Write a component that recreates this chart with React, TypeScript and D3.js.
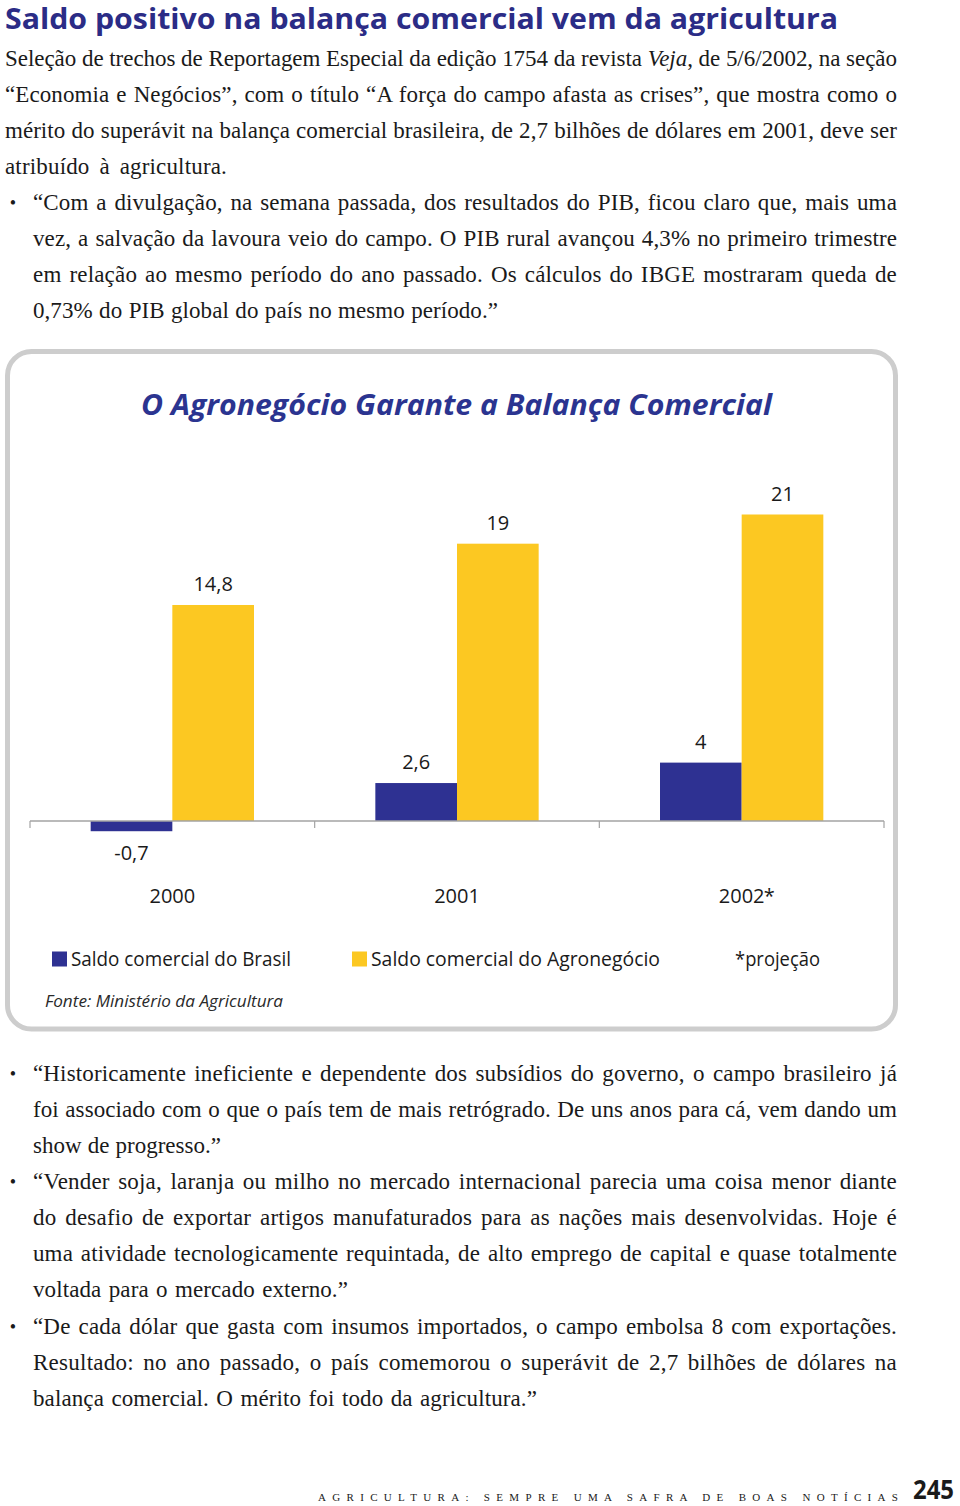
import React, { useEffect, useRef } from "react";
import * as d3 from "d3";

// ---------- chart data ----------
const years = ["2000", "2001", "2002"];
const yearSuffix = ["", "", "*"];
const seriesKeys = ["brasil", "agro"];
const seriesNames = ["Saldo comercial do Brasil", "Saldo comercial do Agronegócio"];
const saldoBrasil = [-0.7, 2.6, 4];
const saldoAgro = [14.8, 19, 21];
const footnote = "*projeção";
const chartTitle = "O Agronegócio Garante a Balança Comercial";
const sourceText = "Fonte: Ministério da Agricultura";

// ---------- page text ----------
const pageTitle = "Saldo positivo na balança comercial vem da agricultura";
const introLines = [
  "Seleção de trechos de Reportagem Especial da edição 1754 da revista |Veja|, de 5/6/2002, na seção",
  "“Economia e Negócios”, com o título “A força do campo afasta as crises”, que mostra como o",
  "mérito do superávit na balança comercial brasileira, de 2,7 bilhões de dólares em 2001, deve ser",
  "atribuído à agricultura.",
];
const bullet1 = [
  "“Com a divulgação, na semana passada, dos resultados do PIB, ficou claro que, mais uma",
  "vez, a salvação da lavoura veio do campo. O PIB rural avançou 4,3% no primeiro trimestre",
  "em relação ao mesmo período do ano passado. Os cálculos do IBGE mostraram queda de",
  "0,73% do PIB global do país no mesmo período.”",
];
const bullet2 = [
  "“Historicamente ineficiente e dependente dos subsídios do governo, o campo brasileiro já",
  "foi associado com o que o país tem de mais retrógrado. De uns anos para cá, vem dando um",
  "show de progresso.”",
];
const bullet3 = [
  "“Vender soja, laranja ou milho no mercado internacional parecia uma coisa menor diante",
  "do desafio de exportar artigos manufaturados para as nações mais desenvolvidas. Hoje é",
  "uma atividade tecnologicamente requintada, de alto emprego de capital e quase totalmente",
  "voltada para o mercado externo.”",
];
const bullet4 = [
  "“De cada dólar que gasta com insumos importados, o campo embolsa 8 com exportações.",
  "Resultado: no ano passado, o país comemorou o superávit de 2,7 bilhões de dólares na",
  "balança comercial. O mérito foi todo da agricultura.”",
];
const footerText = "AGRICULTURA: SEMPRE UMA SAFRA DE BOAS NOTÍCIAS";
const pageNumber = "245";

// ---------- styles ----------
const NAVY = "#2e3192";
const YELLOW = "#fcc822";
const TITLE_BLUE = "#2b2c86";
const SANS = "'Open Sans', 'Noto Sans', sans-serif";
const SERIF = "'Liberation Serif', 'DejaVu Serif', serif";

const fmt = (v: number) => String(v).replace(".", ",");

type LineSpec = { text: string; x: number; end: number; y: number };

function buildBlock(lines: string[], x: number, firstY: number, lastEnd: number): LineSpec[] {
  return lines.map((t, i) => ({
    text: t,
    x,
    end: i === lines.length - 1 ? lastEnd : 897,
    y: firstY + i * 36.15,
  }));
}

export default function App() {
  const svgRef = useRef<SVGSVGElement>(null);

  useEffect(() => {
    const justify = () => {
      if (!svgRef.current) return;
      d3.select(svgRef.current)
        .selectAll<SVGTextElement, unknown>("text.just")
        .each(function () {
          const el = this as SVGTextElement;
          const target = +(el.getAttribute("data-w") || 0);
          el.setAttribute("word-spacing", "0");
          el.setAttribute("letter-spacing", "0");
          const nat = el.getComputedTextLength();
          const txt = el.textContent || "";
          const spaces = (txt.match(/ /g) || []).length;
          const extra = target - nat;
          if (extra >= 0) {
            // mostly between words, a touch between letters
            const ls = Math.min(0.25, extra / (txt.length * 3));
            el.setAttribute("letter-spacing", String(ls));
            const rest = target - el.getComputedTextLength();
            if (spaces > 0) el.setAttribute("word-spacing", String(rest / spaces));
          } else {
            el.setAttribute("letter-spacing", String(extra / Math.max(1, txt.length - 1)));
          }
        });
    };
    justify();
    if ((document as any).fonts && (document as any).fonts.ready) {
      (document as any).fonts.ready.then(justify);
    }
  }, []);

  // scales
  const x0 = d3.scaleBand<string>().domain(years).range([30, 884]).paddingInner(0).paddingOuter(0);
  const x1 = d3
    .scaleBand<string>()
    .domain(seriesKeys)
    .range([0, x0.bandwidth()])
    .paddingInner(0)
    .paddingOuter(0.743);
  const y = d3.scaleLinear().domain([0, 21]).range([821, 514.5]);
  const colors = d3.scaleOrdinal<string, string>().domain(seriesKeys).range([NAVY, YELLOW]);

  const values: Record<string, number[]> = { brasil: saldoBrasil, agro: saldoAgro };

  const bodyLines: LineSpec[] = [
    ...buildBlock(introLines, 5, 65.5, 227),
    ...buildBlock(bullet1, 33, 210, 498),
    ...buildBlock(bullet2, 33, 1080.5, 221),
    ...buildBlock(bullet3, 33, 1189, 348),
    ...buildBlock(bullet4, 33, 1334, 537),
  ];
  const bulletYs = [210, 1080.5, 1189, 1334];

  const ticks = [...years.map((yr) => x0(yr) as number), 884];

  return (
    <svg
      ref={svgRef}
      width={960}
      height={1506}
      viewBox="0 0 960 1506"
      style={{ position: "absolute", left: 0, top: 0, display: "block", background: "#fff" }}
    >
      <rect x={0} y={0} width={960} height={1506} fill="#fff" />

      {/* page title */}
      <text
        x={5}
        y={29}
        fontFamily={SANS}
        fontWeight={700}
        fontSize={28}
        fill={TITLE_BLUE}
        textLength={833}
        lengthAdjust="spacingAndGlyphs"
      >
        {pageTitle}
      </text>

      {/* body text */}
      {bodyLines.map((l, i) => {
        const parts = l.text.split("|");
        return (
          <text
            key={"b" + i}
            className="just"
            data-w={l.end - l.x}
            x={l.x}
            y={l.y}
            fontFamily={SERIF}
            fontSize={23}
            fill="#1a1a1a"
          >
            {parts.map((p, j) => (
              <tspan key={j} fontStyle={j % 2 === 1 ? "italic" : "normal"}>
                {p}
              </tspan>
            ))}
          </text>
        );
      })}
      {bulletYs.map((by, i) => (
        <text key={"bl" + i} x={13} y={by - 1} textAnchor="middle" fontFamily={SERIF} fontSize={18} fill="#1a1a1a">
          •
        </text>
      ))}

      {/* chart frame */}
      <rect x={7.5} y={351.5} width={888} height={677.5} rx={24} ry={24} fill="#fff" stroke="#cdcdcd" strokeWidth={5} />

      <text
        x={456.5}
        y={415}
        textAnchor="middle"
        fontFamily={SANS}
        fontWeight={700}
        fontStyle="italic"
        fontSize={28}
        fill="#2b3490"
        textLength={631}
        lengthAdjust="spacingAndGlyphs"
      >
        {chartTitle}
      </text>

      {/* bars */}
      {years.map((yr, i) => (
        <g key={yr} transform={`translate(${x0(yr)},0)`}>
          {seriesKeys.map((k) => {
            const v = values[k][i];
            const y0 = y(0);
            const yv = y(v);
            return (
              <rect
                key={k}
                x={x1(k)}
                y={Math.min(y0, yv)}
                width={x1.bandwidth()}
                height={Math.abs(yv - y0)}
                fill={colors(k)}
              />
            );
          })}
          {seriesKeys.map((k) => {
            const v = values[k][i];
            const cx = (x1(k) as number) + x1.bandwidth() / 2;
            const ly = v >= 0 ? y(v) - 14 : y(v) + 28.5;
            return (
              <text key={"l" + k} x={cx} y={ly} textAnchor="middle" fontFamily={SANS} fontSize={20} fill="#1a1a1a">
                {fmt(v)}
              </text>
            );
          })}
        </g>
      ))}

      {/* axis */}
      <line x1={30} x2={884} y1={821} y2={821} stroke="#a3a3a3" strokeWidth={1.5} />
      {ticks.map((t, i) => (
        <line key={"t" + i} x1={t} x2={t} y1={821} y2={828} stroke="#a3a3a3" strokeWidth={1.2} />
      ))}
      {years.map((yr, i) => {
        const cx = (x0(yr) as number) + x0.bandwidth() / 2;
        return (
          <g key={"c" + yr}>
            <text x={cx} y={903} textAnchor="middle" fontFamily={SANS} fontSize={20} fill="#1a1a1a">
              {yr}
            </text>
            {yearSuffix[i] && (
              <text x={cx + 22} y={903} fontFamily={SANS} fontSize={20} fill="#1a1a1a">
                {yearSuffix[i]}
              </text>
            )}
          </g>
        );
      })}

      {/* legend */}
      <rect x={52} y={951.5} width={15} height={15} fill={NAVY} />
      <text x={71} y={966} fontFamily={SANS} fontSize={19.5} fill="#1a1a1a" textLength={220} lengthAdjust="spacingAndGlyphs">
        {seriesNames[0]}
      </text>
      <rect x={352} y={951.5} width={15} height={15} fill={YELLOW} />
      <text x={371} y={966} fontFamily={SANS} fontSize={19.5} fill="#1a1a1a" textLength={289} lengthAdjust="spacingAndGlyphs">
        {seriesNames[1]}
      </text>
      <text x={735} y={966} fontFamily={SANS} fontSize={19.5} fill="#1a1a1a" textLength={85} lengthAdjust="spacingAndGlyphs">
        {footnote}
      </text>
      <text
        x={45}
        y={1007}
        fontFamily={SANS}
        fontStyle="italic"
        fontSize={16.5}
        fill="#2a2a2a"
        textLength={238}
        lengthAdjust="spacingAndGlyphs"
      >
        {sourceText}
      </text>

      {/* footer */}
      <text x={318} y={1501} fontFamily={SERIF} fontSize={11} fill="#1a1a1a" textLength={580} lengthAdjust="spacing">
        {footerText}
      </text>
      <text
        x={913}
        y={1499}
        fontFamily={SANS}
        fontWeight={700}
        fontSize={26}
        fill="#1a1a1a"
        textLength={41}
        lengthAdjust="spacingAndGlyphs"
      >
        {pageNumber}
      </text>
    </svg>
  );
}
